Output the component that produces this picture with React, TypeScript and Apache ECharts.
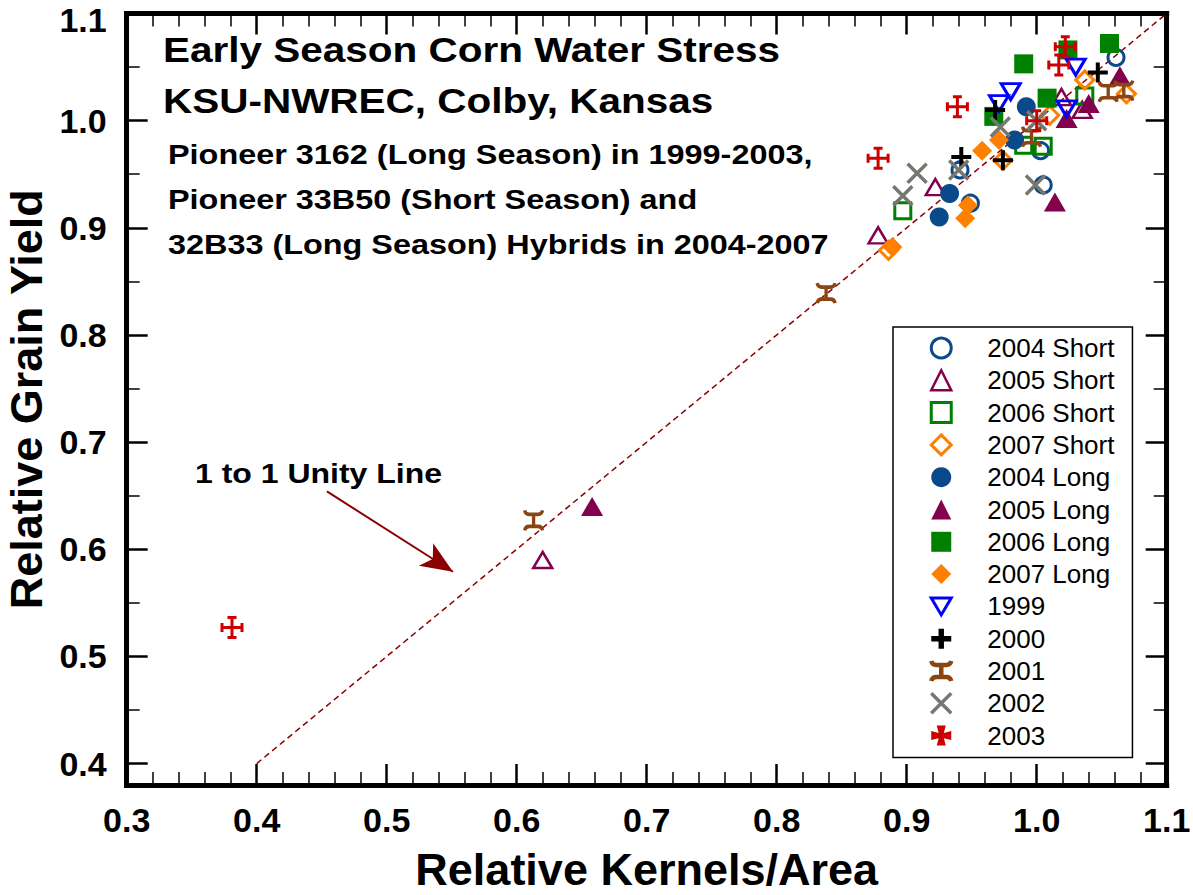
import React, { useEffect, useRef } from "react";
import * as echarts from "echarts";

const FONT = "'Liberation Sans', Arial, Helvetica, sans-serif";

// ---- axis ticks ----
const xMajorTicks = [0.3, 0.4, 0.5, 0.6, 0.7, 0.8, 0.9, 1.0, 1.1];
const yMajorTicks = [0.4, 0.5, 0.6, 0.7, 0.8, 0.9, 1.0, 1.1];
const yMinorTicks = [0.45, 0.55, 0.65, 0.75, 0.85, 0.95, 1.05];

// ---- series names (legend order) ----
const seriesNames = [
  "2004 Short", "2005 Short", "2006 Short", "2007 Short",
  "2004 Long", "2005 Long", "2006 Long", "2007 Long",
  "1999", "2000", "2001", "2002", "2003",
];

// ---- data: [relative kernels/area, relative grain yield] ----
const d2004Short = [[1.061, 1.059], [0.941, 0.954], [1.005, 0.940], [1.003, 0.972], [0.949, 0.923]];
const d2005Short = [[0.922, 0.938], [0.878, 0.893], [0.620, 0.590], [1.019, 1.022], [1.035, 1.010]];
const d2006Short = [[0.897, 0.916], [1.037, 1.023], [1.005, 0.976], [0.990, 0.977]];
const d2007Short = [[1.037, 1.038], [1.069, 1.025], [1.010, 1.005], [0.974, 0.963], [0.886, 0.879]];
const d2004Long = [[0.925, 0.910], [0.933, 0.932], [0.992, 1.013], [0.983, 0.982]];
const d2005Long = [[1.064, 1.042], [1.040, 1.016], [1.023, 1.002], [1.014, 0.924], [0.658, 0.640]];
const d2006Long = [[0.990, 1.053], [1.056, 1.072], [1.008, 1.021], [0.967, 1.004], [1.024, 1.066]];
const d2007Long = [[0.958, 0.972], [0.971, 0.982], [0.947, 0.921], [0.945, 0.909], [0.889, 0.882]];
const d1999 = [[1.030, 1.050], [0.980, 1.027], [0.971, 1.016], [1.023, 1.011]];
const d2000 = [[1.047, 1.045], [0.968, 1.010], [0.942, 0.966], [0.974, 0.963]];
const d2001 = [[1.055, 1.027], [1.067, 1.028], [0.996, 0.985], [0.838, 0.839], [0.613, 0.627]];
const d2002 = [[0.908, 0.951], [0.897, 0.930], [0.940, 0.954], [0.972, 0.994], [1.000, 1.000], [0.999, 0.940]];
const d2003 = [[1.022, 1.069], [1.017, 1.052], [0.939, 1.013], [0.878, 0.965], [1.000, 1.000], [0.381, 0.527]];

const unityLine = [[0.4, 0.4], [1.1, 1.1]];
const arrowStart = [0.454, 0.654];
const arrowEnd = [0.551, 0.579];

// ---- text ----
const titleLines = ["Early Season Corn Water Stress", "KSU-NWREC, Colby, Kansas"];
const subtitleLines = [
  "Pioneer 3162 (Long Season) in 1999-2003,",
  "Pioneer 33B50 (Short Season) and",
  "32B33 (Long Season) Hybrids in 2004-2007",
];
const unityLabel = "1 to 1 Unity Line";

// ---- colours ----
const COL = {
  c04: "#0a4a8a",
  c05: "#82004c",
  c06: "#008000",
  c07: "#ff8000",
  c99: "#0000ff",
  c00: "#000000",
  c01: "#8b4513",
  c02: "#777772",
  c03: "#cc0000",
  unity: "#8b0000",
};

const INV_TRI = "path://M0,0L20,0L10,17Z";
const PLUS = "path://M10,0L10,20M0,10L20,10";
const PLUS_BOLD = "path://M7.3,0H12.7V7.3H20V12.7H12.7V20H7.3V12.7H0V7.3H7.3Z";
const CROSS_X = "path://M0,0L20,20M0,20L20,0";
const CROSS_POTENT = "path://M10,0L10,20M0,10L20,10M5.5,0L14.5,0M5.5,20L14.5,20M0,5.5L0,14.5M20,5.5L20,14.5";
const CROSS_PATTEE = "path://M5.5,0H14.5L12.6,7.4L20,5.5V14.5L12.6,12.6L14.5,20H5.5L7.4,12.6L0,14.5V5.5L7.4,7.4Z";
const BONE = "path://M0,0Q1,4 5,4L15,4Q19,4 20,0M10,4L10,16M0,20Q1,16 5,16L15,16Q19,16 20,20";

function filled(name: string, data: number[][], symbol: string, size: any, color: string) {
  return {
    type: "scatter", name, data, symbol, symbolSize: size,
    itemStyle: { color, borderWidth: 0, opacity: 1 },
    emphasis: { disabled: true }, z: 3,
  };
}
function open(name: string, data: number[][], symbol: string, size: any, color: string, bw: number) {
  return {
    type: "scatter", name, data, symbol, symbolSize: size,
    itemStyle: { color: "transparent", borderColor: color, borderWidth: bw, opacity: 1 },
    emphasis: { disabled: true }, z: 3,
  };
}

function frameLine() {
  return {
    axisLine: { show: true, onZero: false, lineStyle: { color: "#000", width: 5, cap: "square" } },
    splitLine: { show: false },
    minorSplitLine: { show: false },
  };
}

const legendItems = seriesNames.map((n) => {
  if (n === "2000") return { name: n, icon: PLUS_BOLD, itemStyle: { color: COL.c00, borderWidth: 0 } };
  if (n === "2003") return { name: n, icon: CROSS_PATTEE, itemStyle: { color: COL.c03, borderWidth: 0 } };
  if (n === "2001") return { name: n, itemStyle: { borderWidth: 4.5 } };
  return { name: n };
});

export default function App() {
  const ref = useRef<HTMLDivElement>(null);
  useEffect(() => {
    document.body.style.margin = "0";
    if (!ref.current) return;
    const chart = echarts.init(ref.current, null, { renderer: "svg" });

    const labelStyle = { fontFamily: FONT, fontSize: 34, fontWeight: "bold", color: "#000" };
    const nameStyle = { fontFamily: FONT, fontSize: 45, fontWeight: "bold", color: "#000" };

    const graphic: any[] = [];
    const titleY = [49.5, 100.5];
    titleLines.forEach((t, i) => {
      graphic.push({
        type: "text", x: 163, y: titleY[i], scaleX: 1.157, z: 10,
        style: { text: t, x: 0, y: 0, fontFamily: FONT, fontSize: 35, fontWeight: "bold", fill: "#000", align: "left", verticalAlign: "middle" },
      });
    });
    const subY = [154.5, 199, 244.5];
    subtitleLines.forEach((t, i) => {
      graphic.push({
        type: "text", x: 168, y: subY[i], scaleX: 1.2, z: 10,
        style: { text: t, x: 0, y: 0, fontFamily: FONT, fontSize: 27, fontWeight: "bold", fill: "#000", align: "left", verticalAlign: "middle" },
      });
    });
    graphic.push({
      type: "text", x: 195, y: 473, scaleX: 1.185, z: 10,
      style: { text: unityLabel, x: 0, y: 0, fontFamily: FONT, fontSize: 27, fontWeight: "bold", fill: "#000", align: "left", verticalAlign: "middle" },
    });

    const option: any = {
      animation: false,
      backgroundColor: "#fff",
      grid: { left: 126.7, right: 26.3, top: 13.5, bottom: 110, containLabel: false, outerBoundsMode: "none" },
      graphic,
      legend: {
        show: true,
        orient: "vertical",
        left: 893,
        top: 327,
        padding: [8, 18, 9, 36],
        itemGap: 6.3,
        itemWidth: 20,
        itemHeight: 20,
        borderColor: "#000",
        borderWidth: 1.5,
        borderRadius: 0,
        backgroundColor: "#fff",
        selectedMode: false,
        data: legendItems,
        formatter: (n: string) => `{g|}${n}`,
        itemStyle: { borderWidth: "inherit" },
        textStyle: {
          fontFamily: FONT, fontSize: 26, color: "#000",
          rich: { g: { width: 31 } },
        },
      },
      xAxis: [
        {
          type: "value", min: 0.3, max: 1.1, interval: 0.1, position: "bottom",
          ...frameLine(),
          axisTick: { show: true, inside: true, length: 21, lineStyle: { color: "#000", width: 2.5 } },
          minorTick: { show: true, splitNumber: 5, length: 13, lineStyle: { color: "#000", width: 1.5 } },
          axisLabel: { show: true, margin: 18, ...labelStyle, formatter: (v: number) => v.toFixed(1) },
          name: "Relative Kernels/Area", nameLocation: "middle", nameGap: 62, nameTextStyle: nameStyle,
        },
        {
          type: "value", min: 0.3, max: 1.1, interval: 0.1, position: "top",
          ...frameLine(),
          axisTick: { show: true, inside: true, length: 21, lineStyle: { color: "#000", width: 2.5 } },
          minorTick: { show: true, splitNumber: 5, length: 13, lineStyle: { color: "#000", width: 1.5 } },
          axisLabel: { show: false },
        },
      ],
      yAxis: [
        {
          type: "value", min: 0.38, max: 1.1, position: "left",
          ...frameLine(),
          axisTick: { show: true, inside: true, length: 21, customValues: yMajorTicks, lineStyle: { color: "#000", width: 2.5 } },
          axisLabel: {
            show: true, margin: 20, customValues: yMajorTicks, ...labelStyle,
            formatter: (v: number) => (v > 1.05 ? `{t|${v.toFixed(1)}}` : v.toFixed(1)),
            rich: { t: { fontFamily: FONT, fontSize: 34, fontWeight: "bold", color: "#000", padding: [12, 0, 0, 0] } },
          },
          name: "Relative Grain Yield", nameLocation: "middle", nameGap: 55, nameTextStyle: nameStyle,
        },
        {
          type: "value", min: 0.38, max: 1.1, position: "left",
          axisLine: { show: false }, splitLine: { show: false },
          axisTick: { show: true, inside: true, length: 13, customValues: yMinorTicks, lineStyle: { color: "#000", width: 1.5 } },
          axisLabel: { show: false },
        },
        {
          type: "value", min: 0.38, max: 1.1, position: "right",
          ...frameLine(),
          axisTick: { show: true, inside: true, length: 21, customValues: yMajorTicks, lineStyle: { color: "#000", width: 2.5 } },
          axisLabel: { show: false },
        },
        {
          type: "value", min: 0.38, max: 1.1, position: "right",
          axisLine: { show: false }, splitLine: { show: false },
          axisTick: { show: true, inside: true, length: 13, customValues: yMinorTicks, lineStyle: { color: "#000", width: 1.5 } },
          axisLabel: { show: false },
        },
      ],
      series: [
        {
          type: "line", name: "Unity", data: unityLine, symbol: "none", silent: true, z: 2,
          lineStyle: { color: COL.unity, width: 1.5, type: [6, 4] },
          emphasis: { disabled: true },
          markLine: {
            silent: true, symbol: ["none", "arrow"], symbolSize: [20, 32],
            label: { show: false },
            lineStyle: { color: COL.unity, width: 2, type: "solid" },
            emphasis: { disabled: true },
            data: [[{ coord: arrowStart }, { coord: arrowEnd }]],
          },
        },
        open("2004 Short", d2004Short, "circle", 16, COL.c04, 3),
        open("2005 Short", d2005Short, "triangle", [19, 16], COL.c05, 2.5),
        open("2006 Short", d2006Short, "rect", 16, COL.c06, 3),
        open("2007 Short", d2007Short, "diamond", [18, 18], COL.c07, 3),
        filled("2004 Long", d2004Long, "circle", 19, COL.c04),
        filled("2005 Long", d2005Long, "triangle", [22, 19], COL.c05),
        filled("2006 Long", d2006Long, "rect", 19, COL.c06),
        filled("2007 Long", d2007Long, "diamond", [20, 20], COL.c07),
        open("1999", d1999, INV_TRI, [19, 16], COL.c99, 3),
        open("2000", d2000, PLUS, [20, 20], COL.c00, 4),
        open("2001", d2001, BONE, [18, 20], COL.c01, 3.5),
        open("2002", d2002, CROSS_X, [19, 19], COL.c02, 3.5),
        open("2003", d2003, CROSS_POTENT, [20, 20], COL.c03, 3),
      ],
    };
    chart.setOption(option);
    return () => chart.dispose();
  }, []);
  return <div ref={ref} style={{ width: 1193, height: 895 }} />;
}
